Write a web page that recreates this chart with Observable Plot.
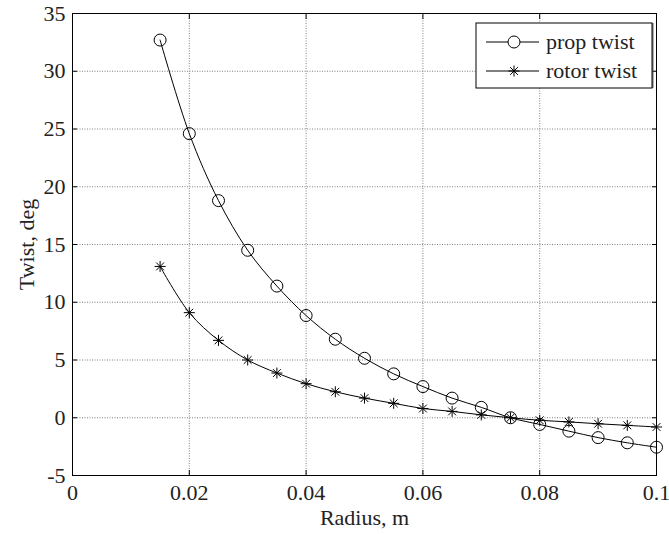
<!DOCTYPE html>
<html>
<head>
<meta charset="utf-8">
<script src="https://cdn.jsdelivr.net/npm/d3@7"></script>
<script src="https://cdn.jsdelivr.net/npm/@observablehq/plot@0.6"></script>
<style>
  html, body { margin: 0; padding: 0; background: white; }
</style>
</head>
<body>
<div id="chart"></div>
<script>
const radius = [0.015, 0.02, 0.025, 0.03, 0.035, 0.04, 0.045, 0.05, 0.055, 0.06, 0.065, 0.07, 0.075, 0.08, 0.085, 0.09, 0.095, 0.1];
const propTwist = [32.7, 24.6, 18.8, 14.5, 11.4, 8.85, 6.8, 5.15, 3.8, 2.7, 1.7, 0.9, 0.0, -0.58, -1.16, -1.72, -2.17, -2.55];
const rotorTwist = [13.1, 9.1, 6.7, 5.0, 3.87, 2.95, 2.25, 1.7, 1.25, 0.8, 0.55, 0.25, 0.0, -0.22, -0.36, -0.52, -0.66, -0.8];
const seriesNames = ["prop twist", "rotor twist"];
const xTicks = [0, 0.02, 0.04, 0.06, 0.08, 0.1];
const yTicks = [-5, 0, 5, 10, 15, 20, 25, 30, 35];
const xLabel = "Radius, m";
const yLabel = "Twist, deg";

const prop = radius.map((r, i) => ({r, v: propTwist[i], s: seriesNames[0]}));
const rotor = radius.map((r, i) => ({r, v: rotorTwist[i], s: seriesNames[1]}));

const star = {
  draw(ctx, size) {
    const R = Math.sqrt(size / Math.PI);
    const d = R * Math.SQRT1_2;
    ctx.moveTo(-R, 0); ctx.lineTo(R, 0);
    ctx.moveTo(0, -R); ctx.lineTo(0, R);
    ctx.moveTo(-d, -d); ctx.lineTo(d, d);
    ctx.moveTo(-d, d); ctx.lineTo(d, -d);
  }
};

const FONT = "Liberation Serif, Times New Roman, serif";
const FS = 22;
const gridStyle = {stroke: "#808080", strokeOpacity: 1, strokeDasharray: "1,1.5", strokeWidth: 1};
const txt = {fontFamily: FONT, fontSize: FS, fill: "#222"};

const chart = Plot.plot({
  width: 669,
  height: 534,
  marginLeft: 72,
  marginRight: 13,
  marginTop: 13,
  marginBottom: 59,
  x: {domain: [0, 0.1], label: null},
  y: {domain: [-5, 35], label: null},
  style: {fontFamily: FONT, fontSize: FS + "px", background: "white", overflow: "visible"},
  marks: [
    Plot.gridX(xTicks, gridStyle),
    Plot.gridY(yTicks, gridStyle),
    Plot.line(prop, {x: "r", y: "v", curve: "catmull-rom", stroke: "black", strokeWidth: 1}),
    Plot.line(rotor, {x: "r", y: "v", curve: "catmull-rom", stroke: "black", strokeWidth: 1}),
    Plot.dot(prop, {x: "r", y: "v", r: 6, stroke: "black", fill: "none", strokeWidth: 1}),
    Plot.dot(rotor, {x: "r", y: "v", r: 5.5, symbol: star, stroke: "black", fill: "none", strokeWidth: 1}),
    Plot.axisX(xTicks, {anchor: "bottom", tickSize: 0, tickPadding: 9, tickFormat: d => String(d), label: null, ...txt}),
    Plot.axisY(yTicks, {anchor: "left", tickSize: 0, tickPadding: 7, tickFormat: d => String(d), label: null, ...txt}),
    Plot.axisX(xTicks, {anchor: "bottom", tickSize: -5, tickFormat: () => "", label: null, stroke: "black"}),
    Plot.axisX(xTicks, {anchor: "top", tickSize: -5, tickFormat: () => "", label: null, stroke: "black"}),
    Plot.axisY(yTicks, {anchor: "left", tickSize: -5, tickFormat: () => "", label: null, stroke: "black"}),
    Plot.axisY(yTicks, {anchor: "right", tickSize: -5, tickFormat: () => "", label: null, stroke: "black"}),
    Plot.frame({stroke: "black", strokeWidth: 1}),
    Plot.text([xLabel], {text: d => d, frameAnchor: "bottom", dy: 42, lineAnchor: "middle", textAnchor: "middle", ...txt}),
    Plot.text([yLabel], {text: d => d, frameAnchor: "left", dx: -46, rotate: -90, lineAnchor: "middle", textAnchor: "middle", ...txt})
  ]
});

document.getElementById("chart").appendChild(chart);

// Legend (MATLAB-style box in the upper right)
const svg = d3.select(chart);
const lg = svg.append("g").attr("class", "legend").attr("text-anchor", "start");
const bx = 476, by = 23, bw = 176, bh = 65;
lg.append("rect").attr("x", bx).attr("y", by).attr("width", bw).attr("height", bh)
  .attr("fill", "white").attr("stroke", "black").attr("stroke-width", 1);
lg.append("line").attr("x1", bx + bw + 0.8).attr("x2", bx + bw + 0.8).attr("y1", by).attr("y2", by + bh)
  .attr("stroke", "#333").attr("stroke-width", 1.2);
seriesNames.forEach((name, i) => {
  const yy = 42 + i * 29;
  lg.append("line").attr("x1", 486).attr("x2", 539).attr("y1", yy).attr("y2", yy)
    .attr("stroke", "black").attr("stroke-width", 1);
  if (i === 0) {
    lg.append("circle").attr("cx", 514).attr("cy", yy).attr("r", 6)
      .attr("fill", "white").attr("stroke", "black");
  } else {
    lg.append("path").attr("transform", `translate(514,${yy})`)
      .attr("d", d3.symbol(star, Math.PI * 5.5 * 5.5)())
      .attr("fill", "none").attr("stroke", "black");
  }
  lg.append("text").attr("x", 546).attr("y", yy).attr("dy", "0.32em")
    .attr("text-anchor", "start")
    .attr("font-family", FONT).attr("font-size", FS).attr("fill", "#222").text(name);
});
</script>
</body>
</html>
